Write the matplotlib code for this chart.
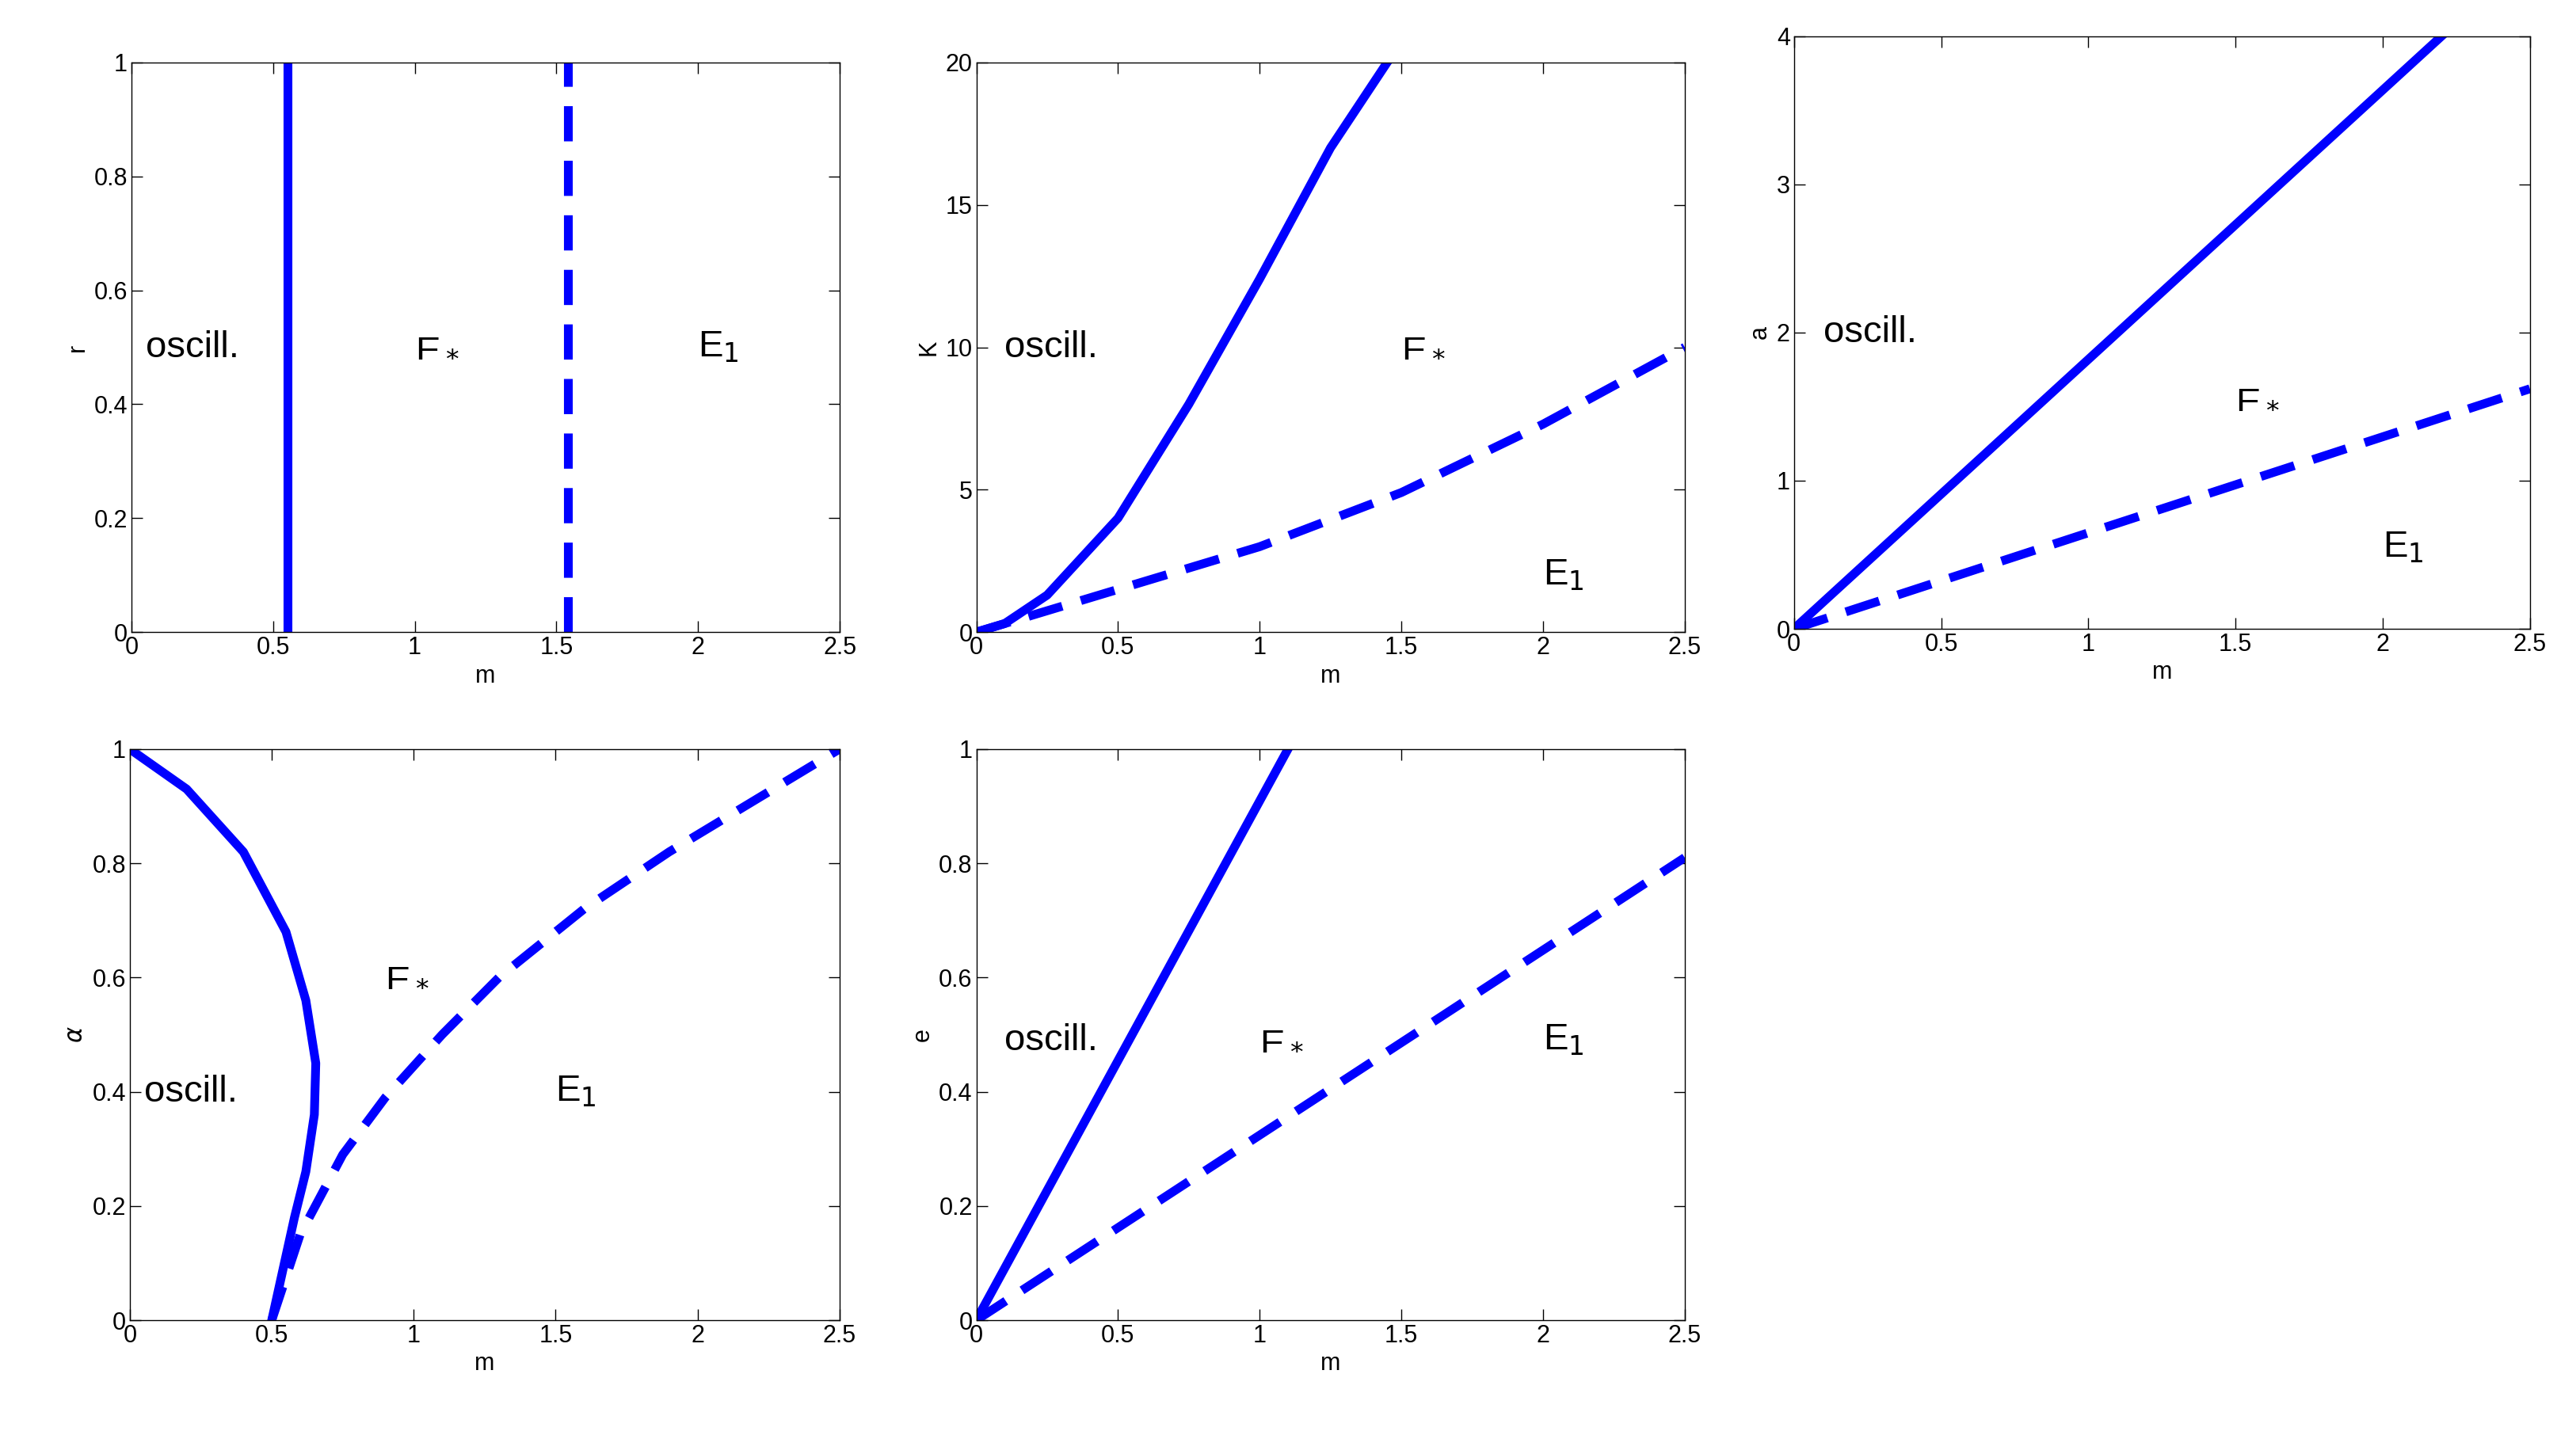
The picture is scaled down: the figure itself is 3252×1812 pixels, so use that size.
import matplotlib
matplotlib.use("Agg")
import matplotlib.pyplot as plt
import numpy as np

plt.rcParams['font.family'] = ['Liberation Sans', 'DejaVu Sans']

# Panel 1: r vs m
p1_solid_m = [0.55, 0.55]; p1_solid_r = [0, 1]
p1_dash_m = [1.54, 1.54]; p1_dash_r = [0, 1]
# Panel 2: K vs m
p2_solid_m = [0, 0.1, 0.25, 0.5, 0.75, 1.0, 1.25, 1.45]
p2_solid_K = [0, 0.3, 1.3, 4.0, 8.0, 12.4, 17.0, 20.0]
p2_dash_m = [0, 0.5, 1.0, 1.5, 2.0, 2.5]
p2_dash_K = [0, 1.5, 3.0, 4.9, 7.3, 10.0]
# Panel 3: a vs m
p3_solid_m = [0, 2.2]; p3_solid_a = [0, 4]
p3_dash_m = [0, 2.5]; p3_dash_a = [0, 1.62]
# Panel 4: alpha vs m
p4_solid_m = [0, 0.2, 0.4, 0.55, 0.62, 0.655, 0.65, 0.62, 0.58, 0.54, 0.5]
p4_solid_al = [1, 0.93, 0.82, 0.68, 0.56, 0.45, 0.36, 0.26, 0.18, 0.09, 0]
p4_dash_m = [0.5, 0.6, 0.75, 0.9, 1.1, 1.3, 1.6, 1.9, 2.2, 2.5]
p4_dash_al = [0, 0.15, 0.29, 0.39, 0.5, 0.6, 0.72, 0.82, 0.91, 1.0]
# Panel 5: e vs m
p5_solid_m = [0, 1.1]; p5_solid_e = [0, 1]
p5_dash_m = [0, 2.5]; p5_dash_e = [0, 0.81]

fig = plt.figure(figsize=(32.52, 18.12), dpi=100)
blue = '#0000ff'
lw = 8
dash = (4, 2.2)

def setup(ax, ylabel, ylim, yticks, yticklabels):
    ax.set_xlim(0, 2.5); ax.set_ylim(*ylim)
    ax.set_xticks([0, 0.5, 1, 1.5, 2, 2.5])
    ax.set_xticklabels(['0', '0.5', '1', '1.5', '2', '2.5'])
    ax.set_yticks(yticks); ax.set_yticklabels(yticklabels)
    ax.tick_params(direction='in', top=True, right=True, labelsize=22, length=10, width=1)
    ax.set_xlabel('m', fontsize=22)
    ax.set_ylabel(ylabel, fontsize=22)
    for s in ax.spines.values():
        s.set_linewidth(1)

def txt(ax, x, y, s):
    ax.text(x, y, s, fontsize=34, ha='left', va='center')

yt01 = [0, 0.2, 0.4, 0.6, 0.8, 1]
yl01 = ['0', '0.2', '0.4', '0.6', '0.8', '1']

ax1 = fig.add_axes([0.051, 0.5595, 0.275, 0.397])
ax1.plot(p1_solid_m, p1_solid_r, color=blue, lw=lw)
ax1.plot(p1_dash_m, p1_dash_r, color=blue, lw=lw, dashes=dash)
setup(ax1, 'r', (0, 1), yt01, yl01)
txt(ax1, 0.05, 0.5, 'oscill.'); txt(ax1, 1.0, 0.5, r'E$_*$'); txt(ax1, 2.0, 0.5, r'E$_1$')

ax2 = fig.add_axes([0.379, 0.5595, 0.275, 0.397])
ax2.plot(p2_solid_m, p2_solid_K, color=blue, lw=lw)
ax2.plot(p2_dash_m, p2_dash_K, color=blue, lw=lw, dashes=dash)
setup(ax2, 'K', (0, 20), [0, 5, 10, 15, 20], ['0', '5', '10', '15', '20'])
txt(ax2, 0.1, 10, 'oscill.'); txt(ax2, 1.5, 10, r'E$_*$'); txt(ax2, 2.0, 2, r'E$_1$')

ax3 = fig.add_axes([0.6964, 0.5618, 0.2857, 0.413])
ax3.plot(p3_solid_m, p3_solid_a, color=blue, lw=lw)
ax3.plot(p3_dash_m, p3_dash_a, color=blue, lw=lw, dashes=dash)
setup(ax3, 'a', (0, 4), [0, 1, 2, 3, 4], ['0', '1', '2', '3', '4'])
txt(ax3, 0.1, 2.0, 'oscill.'); txt(ax3, 1.5, 1.55, r'E$_*$'); txt(ax3, 2.0, 0.55, r'E$_1$')

ax4 = fig.add_axes([0.0504, 0.080, 0.2755, 0.398])
ax4.plot(p4_solid_m, p4_solid_al, color=blue, lw=lw)
ax4.plot(p4_dash_m, p4_dash_al, color=blue, lw=lw, dashes=dash)
setup(ax4, r'$\alpha$', (0, 1), yt01, yl01)
txt(ax4, 0.05, 0.4, 'oscill.'); txt(ax4, 0.9, 0.6, r'E$_*$'); txt(ax4, 1.5, 0.4, r'E$_1$')

ax5 = fig.add_axes([0.379, 0.080, 0.275, 0.398])
ax5.plot(p5_solid_m, p5_solid_e, color=blue, lw=lw)
ax5.plot(p5_dash_m, p5_dash_e, color=blue, lw=lw, dashes=dash)
setup(ax5, 'e', (0, 1), yt01, yl01)
txt(ax5, 0.1, 0.49, 'oscill.'); txt(ax5, 1.0, 0.49, r'E$_*$'); txt(ax5, 2.0, 0.49, r'E$_1$')

fig.savefig('out.png', dpi=100)
